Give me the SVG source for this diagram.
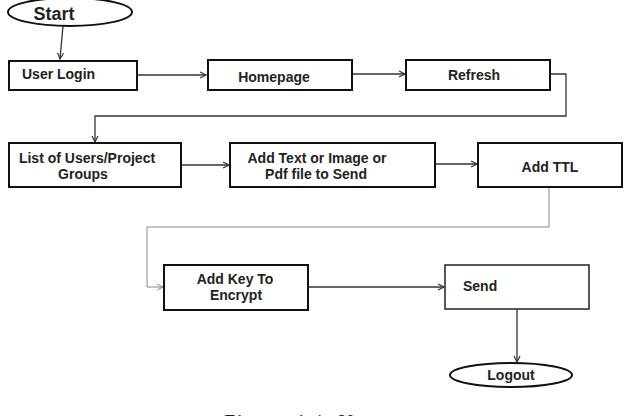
<svg xmlns="http://www.w3.org/2000/svg" width="624" height="416" viewBox="0 0 624 416">
<defs>
<marker id="ah" markerWidth="8" markerHeight="8" refX="7" refY="4" orient="auto" markerUnits="userSpaceOnUse">
<path d="M1,1 L7,4 L1,7" fill="none" stroke="#333" stroke-width="1.2"/>
</marker>
<marker id="ahg" markerWidth="8" markerHeight="8" refX="7" refY="4" orient="auto" markerUnits="userSpaceOnUse">
<path d="M1,1 L7,4 L1,7" fill="none" stroke="#888" stroke-width="1"/>
</marker>
<style>
.box{fill:#fff;stroke:#111;stroke-width:2}
.t{font-family:"Liberation Sans",Arial,sans-serif;font-weight:bold;font-size:14px;fill:#222}
.c{fill:none;stroke:#333;stroke-width:1.3}
.cg{fill:none;stroke:#888;stroke-width:1}
</style>
</defs>
<rect width="624" height="416" fill="#fff"/>
<g id="connectors">
<path class="c" d="M63,26 L60,59" marker-end="url(#ah)"/>
<path class="c" d="M137,75 L206,75" marker-end="url(#ah)"/>
<path class="c" d="M352,74 L405,74" marker-end="url(#ah)"/>
<path class="c" d="M550,74 L566,74 L566,116 L95,116 L95,142" marker-end="url(#ah)"/>
<path class="c" d="M181,165 L229,165" marker-end="url(#ah)"/>
<path class="c" d="M435,164 L477,164" marker-end="url(#ah)"/>
<path class="cg" d="M549,187 L549,227 L147,227 L147,287 L163,287" marker-end="url(#ahg)"/>
<path class="c" d="M308,287 L444,287" marker-end="url(#ah)"/>
<path class="c" d="M517,309 L517,362" marker-end="url(#ah)"/>
</g>
<g id="start">
<ellipse cx="70" cy="12" rx="62" ry="14" fill="#fff" stroke="#111" stroke-width="2"/>
<text class="t" x="54" y="20" text-anchor="middle" style="font-size:18px">Start</text>
</g>
<g id="userlogin">
<rect class="box" x="9" y="61" width="128" height="29"/>
<text class="t" x="22" y="79">User Login</text>
</g>
<g id="homepage">
<rect class="box" x="208" y="60" width="144" height="30"/>
<text class="t" x="274" y="82" text-anchor="middle">Homepage</text>
</g>
<g id="refresh">
<rect class="box" x="406" y="60" width="144" height="30"/>
<text class="t" x="474" y="80" text-anchor="middle">Refresh</text>
</g>
<g id="listusers">
<rect class="box" x="9" y="143" width="172" height="44"/>
<text class="t" x="87" y="163" text-anchor="middle">List of Users/Project</text>
<text class="t" x="83" y="179" text-anchor="middle">Groups</text>
</g>
<g id="addtext">
<rect class="box" x="230" y="143" width="205" height="44"/>
<text class="t" x="317" y="163" text-anchor="middle">Add Text or Image or</text>
<text class="t" x="316" y="179" text-anchor="middle">Pdf file to Send</text>
</g>
<g id="addttl">
<rect class="box" x="478" y="143" width="144" height="44"/>
<text class="t" x="550" y="172" text-anchor="middle">Add TTL</text>
</g>
<g id="addkey">
<rect class="box" x="164" y="265" width="144" height="45"/>
<text class="t" x="235" y="284" text-anchor="middle">Add Key To</text>
<text class="t" x="236" y="300" text-anchor="middle">Encrypt</text>
</g>
<g id="send">
<rect x="445" y="265" width="144" height="44" fill="#fff" stroke="#222" stroke-width="1.5"/>
<text class="t" x="463" y="291">Send</text>
</g>
<g id="logout">
<ellipse cx="511" cy="375" rx="61" ry="12" fill="#fff" stroke="#111" stroke-width="2"/>
<text class="t" x="511" y="380" text-anchor="middle">Logout</text>
</g>
<text x="224" y="429" font-family="'Liberation Serif','Times New Roman',serif" font-size="20" fill="#222" textLength="129">Figure 4.4: U</text>
</svg>
